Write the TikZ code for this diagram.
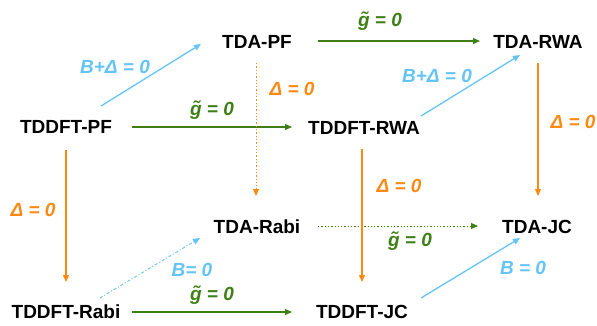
\documentclass[tikz,border=0pt]{standalone}
\usepackage{fontspec}
\setmainfont{Liberation Sans}
\usetikzlibrary{arrows.meta}
\definecolor{cgreen}{RGB}{62,128,22}
\definecolor{corange}{RGB}{250,138,20}
\definecolor{cblue}{RGB}{100,196,245}
% g with a tilde on top
\newcommand{\gtil}{\ooalign{\hfil\raisebox{0.02em}{\char"02DC}\hfil\cr g\cr}}
\tikzset{
  model/.style={font=\fontsize{19}{22}\selectfont\bfseries, inner sep=0pt},
  lbl/.style={font=\fontsize{19}{22}\selectfont\bfseries\itshape, inner sep=0pt},
  arr/.style={line width=1.3pt, -{Triangle[length=7pt,width=6pt]}},
  gtilde/.style={arr, draw=cgreen},
  delta/.style={arr, draw=corange},
  bfield/.style={arr, draw=cblue},
  faint/.style={dotted, line width=1pt},
  faintdash/.style={dash pattern=on 3pt off 2pt on 1pt off 2pt, line width=0.9pt},
}
\begin{document}
\begin{tikzpicture}[x=1pt,y=-1pt]
\useasboundingbox (0,0) rectangle (597,325);
% models
\node[model] (tdapf)   at (257,42)  {TDA-PF};
\node[model] (tdarwa)  at (538,42)  {TDA-RWA};
\node[model] (ddpf)    at (66,127)  {TDDFT-PF};
\node[model] (ddrwa)   at (364,128) {TDDFT-RWA};
\node[model] (tdarabi) at (257,227) {TDA-Rabi};
\node[model] (tdajc)   at (537,227) {TDA-JC};
\node[model] (ddrabi)  at (66,312)  {TDDFT-Rabi};
\node[model] (ddjc)    at (362,312) {TDDFT-JC};
% coupling switched off
\draw[gtilde] (132,127) -- (292,127);
\draw[gtilde] (318,41) -- (480,41);
\draw[gtilde] (132,312) -- (292,312);
\draw[gtilde, faint] (318,226) -- (478,226);
\node[lbl, text=cgreen] at (212,110) {\gtil{} = 0};
\node[lbl, text=cgreen] at (380,21)  {\gtil{} = 0};
\node[lbl, text=cgreen] at (212,295) {\gtil{} = 0};
\node[lbl, text=cgreen] at (410,241) {\gtil{} = 0};
% dipole self-energy / de-excitation terms
\draw[bfield] (101,106) -- (201,44);
\draw[bfield] (421,116) -- (520,55);
\draw[bfield, faintdash] (100,298) -- (200,238);
\draw[bfield] (421,298) -- (520,238);
\node[lbl, text=cblue] at (115,67) {B+Δ = 0};
\node[lbl, text=cblue] at (437,76) {B+Δ = 0};
\node[lbl, text=cblue] at (192,270) {B= 0};
\node[lbl, text=cblue] at (523,268) {B = 0};
% Tamm-Dancoff step
\draw[delta] (66,150) -- (66,282);
\draw[delta, faint] (256,63) -- (256,196);
\draw[delta] (362,149) -- (362,282);
\draw[delta] (538,63) -- (538,196);
\node[lbl, text=corange] at (33,210) {Δ = 0};
\node[lbl, text=corange] at (292,89) {Δ = 0};
\node[lbl, text=corange] at (399,186) {Δ = 0};
\node[lbl, text=corange] at (573,122) {Δ = 0};
\end{tikzpicture}
\end{document}
